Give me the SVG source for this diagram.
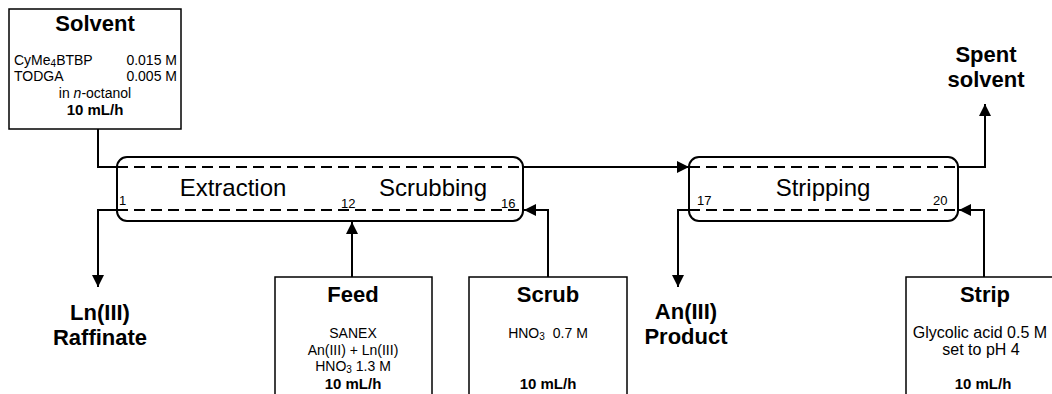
<svg xmlns="http://www.w3.org/2000/svg" width="1052" height="394" viewBox="0 0 1052 394">
<style>
.box{fill:#fff;stroke:#000;stroke-width:1.5}
.unit{fill:#fff;stroke:#000;stroke-width:2}
.flow{fill:none;stroke:#000;stroke-width:2}
.dash{fill:none;stroke:#000;stroke-width:2;stroke-dasharray:11 6}
text{font-family:"Liberation Sans",Arial,sans-serif;fill:#000}
.t{font-weight:bold;font-size:22px;text-anchor:middle}
.b{font-size:14px}
.m{text-anchor:middle}
.e{text-anchor:end}
.bold{font-weight:bold;font-size:15px}
.lab{font-size:24px;text-anchor:middle}
.n{font-size:13px}
.sub{font-size:10px}
</style>
<defs>
<marker id="ah" markerWidth="12" markerHeight="12" refX="12" refY="6" orient="auto" markerUnits="userSpaceOnUse"><path d="M0,0 L12,6 L0,12 z" fill="#000"/></marker>
</defs>
<rect width="1052" height="394" fill="#fff"/>

<g id="extraction-scrubbing">
<rect class="unit" x="117" y="157" width="406" height="64" rx="10"/>
<text class="lab" x="233" y="196">Extraction</text>
<text class="lab" x="433" y="196">Scrubbing</text>
<text class="n" x="119" y="205">1</text>
<text class="n" x="341" y="208">12</text>
<text class="n" x="501" y="208">16</text>
</g>

<g id="stripping">
<rect class="unit" x="689" y="157" width="269" height="64" rx="10"/>
<text class="lab" x="823" y="196">Stripping</text>
<text class="n" x="697" y="205">17</text>
<text class="n" x="933" y="205">20</text>
</g>

<g id="connectors">
<path class="flow" d="M98,129 V167 H117"/>
<path class="dash" d="M117,167 H523"/>
<path class="flow" d="M523,167 H689" marker-end="url(#ah)"/>
<path class="dash" d="M117,210 H523"/>
<path class="flow" d="M117,210 H98 V287" marker-end="url(#ah)"/>
<path class="flow" d="M352,277 V222" marker-end="url(#ah)"/>
<path class="flow" d="M548,277 V210 H524" marker-end="url(#ah)"/>
<path class="dash" d="M689,167 H958"/>
<path class="flow" d="M958,167 H985 V104" marker-end="url(#ah)"/>
<path class="dash" d="M689,210 H958"/>
<path class="flow" d="M689,210 H678 V287" marker-end="url(#ah)"/>
<path class="flow" d="M984,277 V210 H959" marker-end="url(#ah)"/>
</g>

<g id="solvent">
<rect class="box" x="9" y="9" width="172" height="120"/>
<text class="t" x="95" y="31">Solvent</text>
<text class="b" x="14" y="65">CyMe<tspan class="sub" dy="2">4</tspan><tspan dy="-2">BTBP</tspan></text>
<text class="b e" x="177" y="65">0.015 M</text>
<text class="b" x="14" y="81">TODGA</text>
<text class="b e" x="177" y="81">0.005 M</text>
<text class="b m" x="95" y="98">in <tspan font-style="italic">n</tspan>-octanol</text>
<text class="m bold" x="95" y="115">10 mL/h</text>
</g>

<g id="feed">
<rect class="box" x="275" y="277" width="157" height="130"/>
<text class="t" x="353" y="302">Feed</text>
<text class="b m" x="353" y="338">SANEX</text>
<text class="b m" x="353" y="355">An(III) + Ln(III)</text>
<text class="b m" x="353" y="371">HNO<tspan class="sub" dy="2">3</tspan><tspan dy="-2"> 1.3 M</tspan></text>
<text class="m bold" x="353" y="389">10 mL/h</text>
</g>

<g id="scrub">
<rect class="box" x="469" y="277" width="158" height="130"/>
<text class="t" x="548" y="302">Scrub</text>
<text class="b m" x="548" y="338">HNO<tspan class="sub" dy="2">3</tspan><tspan dx="8" dy="-2">0.7 M</tspan></text>
<text class="m bold" x="548" y="389">10 mL/h</text>
</g>

<g id="strip">
<rect class="box" x="906" y="277" width="160" height="130"/>
<text class="t" x="985" y="302">Strip</text>
<text class="b m" x="980" y="338" style="font-size:16px">Glycolic acid 0.5 M</text>
<text class="b m" x="981" y="355" style="font-size:16px">set to pH 4</text>
<text class="m bold" x="983" y="389">10 mL/h</text>
</g>

<g id="raffinate">
<text class="t" x="100" y="320">Ln(III)</text>
<text class="t" x="100" y="345">Raffinate</text>
</g>

<g id="product">
<text class="t" x="686" y="319">An(III)</text>
<text class="t" x="686" y="344">Product</text>
</g>

<g id="spent-solvent">
<text class="t" x="986" y="62">Spent</text>
<text class="t" x="986" y="87">solvent</text>
</g>
</svg>
